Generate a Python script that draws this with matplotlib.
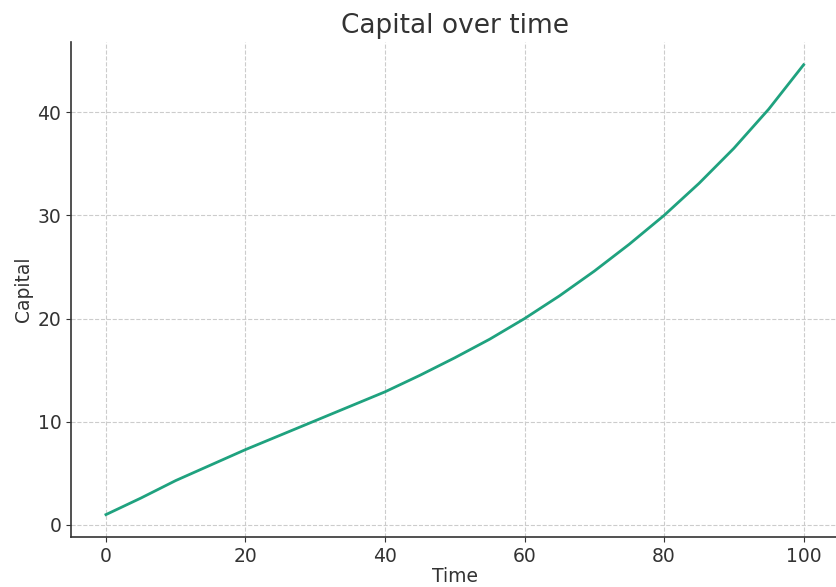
import matplotlib
matplotlib.use("Agg")
import matplotlib.pyplot as plt

# values
time = [0, 5, 10, 15, 20, 25, 30, 35, 40, 45, 50,
        55, 60, 65, 70, 75, 80, 85, 90, 95, 100]
capital = [1.0, 2.6, 4.3, 5.8, 7.3, 8.7, 10.1, 11.5, 12.9, 14.5, 16.2,
           18.0, 20.0, 22.2, 24.6, 27.2, 30.0, 33.1, 36.5, 40.3, 44.6]

TEXT = "#333333"
LINE = "#1fa27f"

plt.rcParams.update({
    "font.family": "DejaVu Sans",
    "text.color": TEXT,
    "axes.labelcolor": TEXT,
    "xtick.color": TEXT,
    "ytick.color": TEXT,
    "axes.edgecolor": TEXT,
})

fig = plt.figure(figsize=(8.36, 5.87), dpi=100)
ax = fig.add_axes([0.085, 0.085, 0.918, 0.843])

ax.plot(time, capital, color=LINE, linewidth=2.0)

ax.set_title("Capital over time", fontsize=19, pad=7)
ax.set_xlabel("Time", fontsize=13.5, labelpad=1)
ax.set_ylabel("Capital", fontsize=13.5, labelpad=3)
ax.tick_params(labelsize=13.5)
ax.set_xticks([0, 20, 40, 60, 80, 100])
ax.set_yticks([0, 10, 20, 30, 40])

ax.grid(True, linestyle="--", color="#cccccc", linewidth=0.8)
ax.spines["top"].set_visible(False)
ax.spines["right"].set_visible(False)
ax.spines["left"].set_linewidth(1.2)
ax.spines["bottom"].set_linewidth(1.2)

fig.savefig("out.png", dpi=100)
